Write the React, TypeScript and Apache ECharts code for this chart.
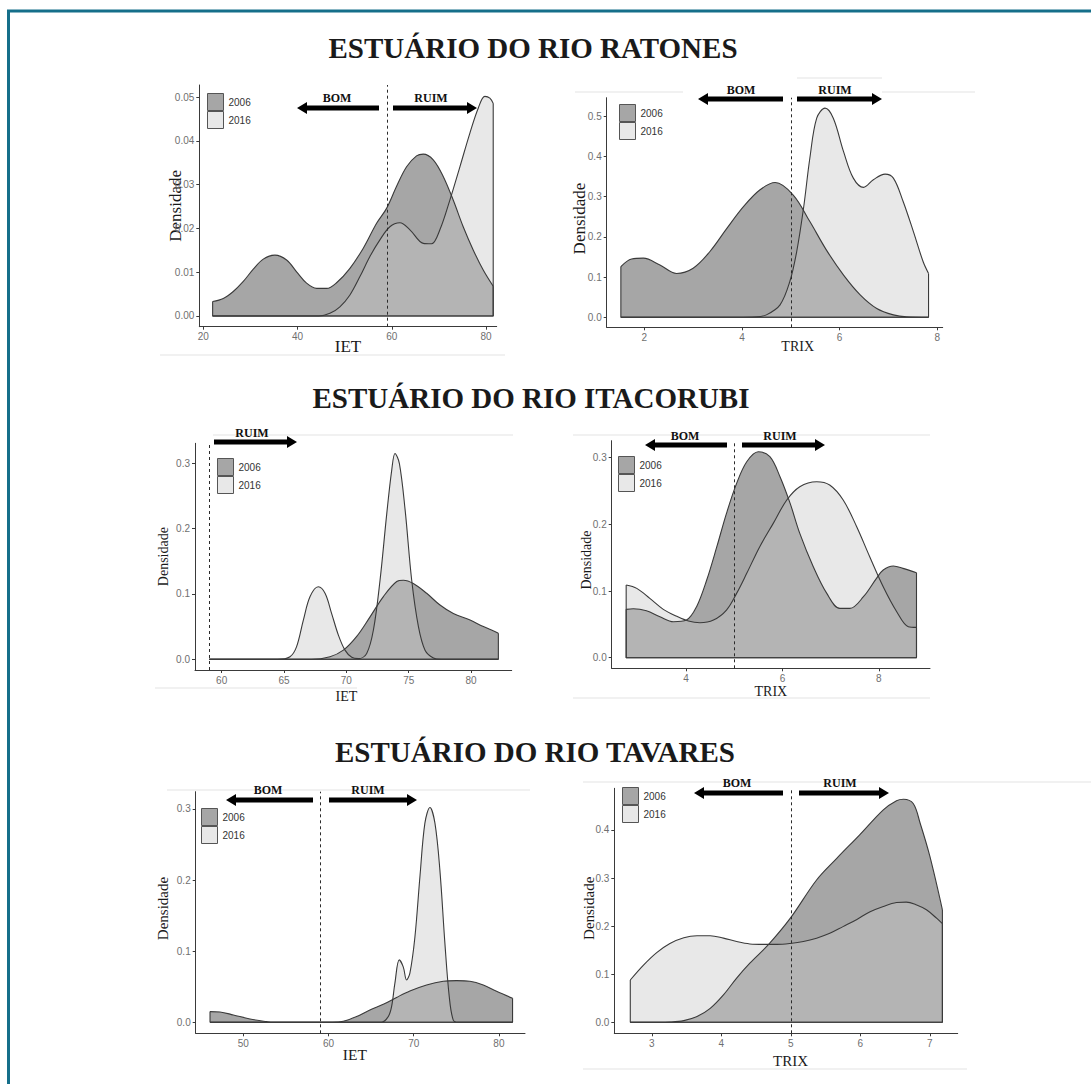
import React, { useEffect, useRef } from "react";
import * as echarts from "echarts";

// ------------------------------------------------------------------ data
const seriesNames = ["2006", "2016"];
const ietThreshold = 59;
const trixThreshold = 5;

// Estuário do Rio Ratones – IET
const ratonesIetTicksX = [20, 40, 60, 80];
const ratonesIetTicksY = [0, 0.01, 0.02, 0.03, 0.04, 0.05];
const ratonesIet2006: number[][] = [
  [21.98, 0.0033], [24.24, 0.004], [26.36, 0.0056], [28.49, 0.0079], [30.61, 0.0107],
  [32.73, 0.013], [35.2, 0.0139], [37.68, 0.0128], [39.8, 0.0101], [41.92, 0.0075],
  [44.05, 0.0063], [46.17, 0.0063], [48.29, 0.0076], [51.12, 0.0109], [53.95, 0.0155],
  [56.78, 0.0212], [58.9, 0.0246], [61.0, 0.0296], [63.14, 0.0341], [65.26, 0.0366],
  [66.68, 0.037], [68.8, 0.0357], [70.92, 0.0319], [73.04, 0.0265], [75.16, 0.0204],
  [77.28, 0.0151], [79.41, 0.0105], [81.53, 0.0068],
];
const ratonesIet2016: number[][] = [
  [21.98, 0], [40, 0], [44.5, 0], [46.87, 0.0006], [48.99, 0.0021], [51.12, 0.0048],
  [53.24, 0.009], [55.36, 0.0136], [57.48, 0.0174], [59.6, 0.0204], [61.72, 0.0213],
  [63.85, 0.0197], [66.68, 0.0166], [68.44, 0.0165], [70.21, 0.0197], [72.33, 0.0265],
  [74.46, 0.0341], [76.58, 0.0418], [78.35, 0.0475], [79.76, 0.0502], [80.82, 0.0498],
  [81.53, 0.0486],
];

// Estuário do Rio Ratones – TRIX
const ratonesTrixTicksX = [2, 4, 6, 8];
const ratonesTrixTicksY = [0, 0.1, 0.2, 0.3, 0.4, 0.5];
const ratonesTrix2006: number[][] = [
  [1.52, 0.126], [1.74, 0.145], [1.98, 0.147], [2.32, 0.13], [2.66, 0.109], [3.0, 0.122],
  [3.34, 0.163], [3.69, 0.221], [4.03, 0.275], [4.37, 0.317], [4.68, 0.335], [5.05, 0.304],
  [5.39, 0.238], [5.73, 0.167], [6.08, 0.105], [6.42, 0.056], [6.76, 0.022], [7.1, 0.006],
  [7.37, 0.001], [7.82, 0],
];
const ratonesTrix2016: number[][] = [
  [1.52, 0], [3.9, 0], [4.3, 0.001], [4.5, 0.006], [4.78, 0.031], [4.98, 0.089],
  [5.12, 0.163], [5.26, 0.271], [5.39, 0.396], [5.53, 0.495], [5.7, 0.52], [5.87, 0.495],
  [6.08, 0.412], [6.28, 0.346], [6.49, 0.323], [6.69, 0.342], [6.93, 0.356], [7.1, 0.346],
  [7.3, 0.288], [7.51, 0.213], [7.71, 0.138], [7.82, 0.109],
];

// Estuário do Rio Itacorubi – IET
const itacorubiIetTicksX = [60, 65, 70, 75, 80];
const itacorubiIetTicksY = [0, 0.1, 0.2, 0.3];
const itacorubiIet2006: number[][] = [
  [59, 0], [67.2, 0], [68.69, 0.004], [69.76, 0.014], [70.83, 0.035], [71.9, 0.065],
  [72.97, 0.096], [74.04, 0.119], [74.57, 0.121], [75.37, 0.116], [76.44, 0.101],
  [77.51, 0.083], [78.58, 0.07], [79.92, 0.06], [80.99, 0.05], [82.19, 0.04],
];
const itacorubiIet2016: number[][] = [
  [59, 0], [64.5, 0], [65.48, 0.004], [66.0, 0.019], [66.55, 0.06], [67.09, 0.096],
  [67.75, 0.111], [68.29, 0.101], [68.82, 0.07], [69.36, 0.037], [69.89, 0.014],
  [70.43, 0.003], [70.96, 0.001], [71.63, 0.009], [72.17, 0.045], [72.7, 0.121],
  [73.24, 0.223], [73.64, 0.29], [73.9, 0.315], [74.25, 0.3], [74.71, 0.229],
  [75.24, 0.121], [75.78, 0.05], [76.31, 0.014], [76.98, 0.002], [77.6, 0], [82.19, 0],
];

// Estuário do Rio Itacorubi – TRIX
const itacorubiTrixTicksX = [4, 6, 8];
const itacorubiTrixTicksY = [0, 0.1, 0.2, 0.3];
const itacorubiTrix2006: number[][] = [
  [2.76, 0.0725], [2.91, 0.0735], [3.18, 0.0705], [3.46, 0.0615], [3.74, 0.054],
  [4.01, 0.0565], [4.22, 0.0765], [4.43, 0.1165], [4.64, 0.1665], [4.84, 0.2165],
  [5.05, 0.2615], [5.26, 0.294], [5.5, 0.309], [5.74, 0.3015], [5.95, 0.2715],
  [6.16, 0.2315], [6.36, 0.1865], [6.64, 0.1365], [6.92, 0.0965], [7.19, 0.074],
  [7.4, 0.074], [7.68, 0.0915], [7.95, 0.119], [8.09, 0.1315], [8.3, 0.1375],
  [8.5, 0.134], [8.78, 0.1275],
];
const itacorubiTrix2016: number[][] = [
  [2.76, 0.109], [2.98, 0.104], [3.25, 0.089], [3.53, 0.0725], [3.81, 0.062], [4.05, 0.055],
  [4.29, 0.0525], [4.57, 0.0565], [4.84, 0.0715], [5.05, 0.0965], [5.26, 0.1265],
  [5.53, 0.1665], [5.81, 0.2015], [6.09, 0.2365], [6.36, 0.2565], [6.71, 0.264],
  [6.98, 0.259], [7.26, 0.2365], [7.54, 0.1965], [7.81, 0.1515], [8.09, 0.1065],
  [8.37, 0.069], [8.61, 0.0465], [8.78, 0.0455],
];

// Estuário do Rio Tavares – IET
const tavaresIetTicksX = [50, 60, 70, 80];
const tavaresIetTicksY = [0, 0.1, 0.2, 0.3];
const tavaresIet2006: number[][] = [
  [46.09, 0.015], [47.26, 0.0145], [48.83, 0.0103], [50.78, 0.0047], [52.74, 0.0009],
  [53.5, 0], [60.5, 0], [61.73, 0.0014], [63.3, 0.008], [64.86, 0.0173], [66.43, 0.0253],
  [67.99, 0.035], [69.55, 0.044], [71.51, 0.0525], [73.47, 0.0577], [75.03, 0.0586],
  [76.59, 0.0577], [78.16, 0.0525], [79.72, 0.0436], [81.6, 0.0338],
];
const tavaresIet2016: number[][] = [
  [46.09, 0], [66.2, 0], [67.01, 0.008], [67.4, 0.022], [67.79, 0.055], [68.3, 0.0877],
  [68.77, 0.078], [69.16, 0.0595], [69.55, 0.069], [70.14, 0.12], [70.73, 0.205],
  [71.31, 0.28], [71.9, 0.302], [72.49, 0.28], [73.07, 0.214], [73.66, 0.111],
  [74.17, 0.036], [74.64, 0.003], [75.2, 0], [81.6, 0],
];

// Estuário do Rio Tavares – TRIX
const tavaresTrixTicksX = [3, 4, 5, 6, 7];
const tavaresTrixTicksY = [0, 0.1, 0.2, 0.3, 0.4];
const tavaresTrix2006: number[][] = [
  [2.69, 0], [3.1, 0], [3.26, 0.0005], [3.46, 0.0035], [3.65, 0.012], [3.84, 0.029],
  [4.03, 0.057], [4.22, 0.092], [4.41, 0.123], [4.68, 0.162], [4.99, 0.216], [5.37, 0.296],
  [5.66, 0.341], [5.99, 0.39], [6.33, 0.442], [6.52, 0.461], [6.62, 0.464], [6.76, 0.455],
  [6.86, 0.414], [7.0, 0.345], [7.18, 0.234],
];
const tavaresTrix2016: number[][] = [
  [2.69, 0.088], [2.88, 0.119], [3.07, 0.145], [3.26, 0.164], [3.46, 0.176], [3.65, 0.18],
  [3.84, 0.18], [4.03, 0.175], [4.22, 0.168], [4.41, 0.163], [4.6, 0.162], [4.8, 0.162],
  [4.99, 0.164], [5.18, 0.168], [5.37, 0.175], [5.56, 0.185], [5.75, 0.199], [5.95, 0.214],
  [6.14, 0.23], [6.33, 0.241], [6.52, 0.249], [6.66, 0.25], [6.81, 0.244], [6.95, 0.234],
  [7.1, 0.216], [7.18, 0.205],
];

const sectionTitles = [
  "ESTUÁRIO DO RIO RATONES",
  "ESTUÁRIO DO RIO ITACORUBI",
  "ESTUÁRIO DO RIO TAVARES",
];

// ------------------------------------------------------------------ styles / layout
const SANS = '"Liberation Sans", Arial, sans-serif';
const SERIF = '"Liberation Serif", "Times New Roman", serif';
const FILL_2006 = "#a6a6a6";
const FILL_2016 = "rgba(200,200,200,0.42)";
const KEY_2016 = "#e8e8e8";
const LINE = "#3a3a3a";

type Panel = {
  grid: [number, number, number, number];
  x: [number, number];
  y: [number, number];
  xTicks: number[];
  yTicks: number[];
  dec: number;
  xName: string;
  xNameSize: number;
  xNameGap: number;
  xNamePad: number[];
  yNameSize: number;
  yNameGap: number;
  yNamePad: number[];
  yNameCover: number;
  d2006: number[][];
  d2016: number[][];
  threshold: number;
  legend: [number, number];
};

const panels: Panel[] = [
  {
    grid: [199.3, 85, 297.4, 241.7], x: [19.15, 82.27], y: [-0.00245, 0.0528],
    xTicks: ratonesIetTicksX, yTicks: ratonesIetTicksY, dec: 2,
    xName: "IET", xNameSize: 17, xNameGap: 11, xNamePad: [0, 0, 0, 0],
    yNameSize: 17, yNameGap: 12, yNamePad: [0, 0, 0, 0], yNameCover: 3,
    d2006: ratonesIet2006, d2016: ratonesIet2016, threshold: ietThreshold, legend: [207, 93],
  },
  {
    grid: [606.7, 97.7, 336, 229.6], x: [1.23, 8.11], y: [-0.0249, 0.546],
    xTicks: ratonesTrixTicksX, yTicks: ratonesTrixTicksY, dec: 1,
    xName: "TRIX", xNameSize: 14, xNameGap: 12.5, xNamePad: [0, 0, 0, 46],
    yNameSize: 17, yNameGap: 19, yNamePad: [0, 12, 0, 0], yNameCover: 0,
    d2006: ratonesTrix2006, d2016: ratonesTrix2016, threshold: trixThreshold, legend: [619, 104],
  },
  {
    grid: [195, 443.3, 316.7, 226.7], x: [57.86, 83.26], y: [-0.0164, 0.3306],
    xTicks: itacorubiIetTicksX, yTicks: itacorubiIetTicksY, dec: 1,
    xName: "IET", xNameSize: 14, xNameGap: 19.5, xNamePad: [0, 14, 0, 0],
    yNameSize: 14, yNameGap: 24.5, yNamePad: [0, 0, 0, 0], yNameCover: 0,
    d2006: itacorubiIet2006, d2016: itacorubiIet2016, threshold: ietThreshold, legend: [217, 458],
  },
  {
    grid: [611.7, 440.7, 318.3, 227.6], x: [2.46, 9.06], y: [-0.0159, 0.3255],
    xTicks: itacorubiTrixTicksX, yTicks: itacorubiTrixTicksY, dec: 1,
    xName: "TRIX", xNameSize: 14, xNameGap: 16, xNamePad: [0, 0, 0, 0],
    yNameSize: 14, yNameGap: 18.7, yNamePad: [0, 11, 0, 0], yNameCover: 0,
    d2006: itacorubiTrix2006, d2016: itacorubiTrix2016, threshold: trixThreshold, legend: [618, 456],
  },
  {
    grid: [195.7, 791.7, 329.3, 241.6], x: [44.41, 83.06], y: [-0.0155, 0.3243],
    xTicks: tavaresIetTicksX, yTicks: tavaresIetTicksY, dec: 1,
    xName: "IET", xNameSize: 15.5, xNameGap: 13, xNamePad: [0, 11, 0, 0],
    yNameSize: 15, yNameGap: 25.7, yNamePad: [0, 0, 0, 8], yNameCover: 0,
    d2006: tavaresIet2006, d2016: tavaresIet2016, threshold: ietThreshold, legend: [201, 808],
  },
  {
    grid: [614.3, 788.3, 343.4, 245], x: [2.46, 7.4], y: [-0.0229, 0.4867],
    xTicks: tavaresTrixTicksX, yTicks: tavaresTrixTicksY, dec: 1,
    xName: "TRIX", xNameSize: 15, xNameGap: 20, xNamePad: [0, 0, 0, 9],
    yNameSize: 15, yNameGap: 11, yNamePad: [0, 0, 0, 5], yNameCover: 7,
    d2006: tavaresTrix2006, d2016: tavaresTrix2016, threshold: trixThreshold, legend: [622, 787],
  },
];

// BOM / RUIM annotations: [label, textX, textY, tailX, tipX, arrowY]
const annotations: [string, number, number, number, number, number][] = [
  ["BOM", 337, 98, 379, 297, 108], ["RUIM", 431, 98, 393, 477, 108],
  ["BOM", 741, 90, 783, 698, 99], ["RUIM", 835, 90, 797, 882, 99],
  ["RUIM", 252, 433, 214, 297, 442],
  ["BOM", 685, 436, 727, 645, 445], ["RUIM", 780, 436, 742, 825, 445],
  ["BOM", 268, 790, 313, 226, 800], ["RUIM", 368, 790, 329, 417, 800],
  ["BOM", 737, 783, 783, 694, 793], ["RUIM", 840, 783, 799, 889, 793],
];
const titlePositions: [number, number][] = [[533, 48], [531, 398], [535, 752]];

// faint edges of the pasted screenshots
const faintLines: [number, number, number, number][] = [
  [160, 355, 505, 355],
  [575, 92, 683, 92], [882, 92, 975, 92], [797, 78, 882, 78],
  [213, 435, 513, 435], [155, 688, 357, 688],
  [573, 435, 930, 435], [573, 698, 930, 698],
  [167, 790, 530, 790],
  [583, 782, 1091, 782], [583, 1069, 967, 1069],
];

function arrowShape(tail: number, tip: number, y: number) {
  const dir = tip > tail ? 1 : -1;
  const hl = 10, hh = 6, st = 2.6;
  const b = tip - dir * hl;
  return {
    type: "polygon",
    silent: true,
    shape: {
      points: [
        [tail, y - st], [b, y - st], [b, y - hh], [tip, y], [b, y + hh], [b, y + st], [tail, y + st],
      ],
    },
    style: { fill: "#000" },
  };
}

function densitySeries(i: number, name: string, pts: number[][], fill: string, threshold?: number) {
  const first = pts[0];
  const last = pts[pts.length - 1];
  const area: any = {
    type: "line",
    name,
    xAxisIndex: i,
    yAxisIndex: i,
    data: pts,
    smooth: 0.35,
    symbol: "none",
    silent: true,
    lineStyle: { color: LINE, width: 1.1 },
    itemStyle: { color: fill },
    areaStyle: { color: fill, opacity: 1 },
  };
  const outline: any = {
    type: "line",
    name: name + " contorno",
    xAxisIndex: i,
    yAxisIndex: i,
    data: [[first[0], first[1]], [first[0], 0], [last[0], 0], [last[0], last[1]]],
    symbol: "none",
    silent: true,
    lineStyle: { color: LINE, width: 1.1 },
  };
  if (threshold !== undefined) {
    outline.markLine = {
      silent: true,
      symbol: ["none", "none"],
      label: { show: false },
      lineStyle: { color: "#2b2b2b", width: 1, type: [3, 3] },
      data: [{ xAxis: threshold }],
    };
  }
  return [area, outline];
}

function buildOption() {
  const grid = panels.map((p) => ({ left: p.grid[0], top: p.grid[1], width: p.grid[2], height: p.grid[3] }));
  const xAxis = panels.map((p, i) => ({
    type: "value",
    gridIndex: i,
    min: p.x[0],
    max: p.x[1],
    name: p.xName,
    nameLocation: "middle",
    nameGap: p.xNameGap,
    nameMoveOverlap: false,
    nameTextStyle: { fontFamily: SERIF, fontSize: p.xNameSize, color: "#1a1a1a", padding: p.xNamePad },
    axisLine: { onZero: false, lineStyle: { color: LINE, width: 1 } },
    axisTick: { show: true, customValues: p.xTicks, length: 3, lineStyle: { color: LINE } },
    axisLabel: {
      customValues: p.xTicks, margin: 5, fontSize: 10, color: "#6f6f6f", fontFamily: SANS,
      formatter: (v: number) => String(v),
    },
    splitLine: { show: false },
  }));
  const yAxis = panels.map((p, i) => ({
    type: "value",
    gridIndex: i,
    min: p.y[0],
    max: p.y[1],
    name: "{d|Densidade}",
    nameLocation: "middle",
    nameGap: p.yNameGap,
    nameMoveOverlap: false,
    z: 3,
    nameTextStyle: {
      padding: p.yNamePad,
      rich: {
        d: {
          fontFamily: SERIF, fontSize: p.yNameSize, color: "#1a1a1a",
          backgroundColor: p.yNameCover > 0 ? "#fff" : "transparent",
          padding: [0, 0, p.yNameCover, 0],
        },
      },
    },
    axisLine: { onZero: false, lineStyle: { color: LINE, width: 1 } },
    axisTick: { show: true, customValues: p.yTicks, length: 3, lineStyle: { color: LINE } },
    axisLabel: {
      customValues: p.yTicks, margin: 5, fontSize: 10, color: "#6f6f6f", fontFamily: SANS,
      formatter: (v: number) => v.toFixed(p.dec),
    },
    splitLine: { show: false },
  }));
  const series: any[] = [];
  panels.forEach((p, i) => {
    series.push(...densitySeries(i, seriesNames[0], p.d2006, FILL_2006));
    series.push(...densitySeries(i, seriesNames[1], p.d2016, FILL_2016, p.threshold));
  });
  const legend = panels.map((p) => ({
    left: p.legend[0],
    top: p.legend[1],
    orient: "vertical",
    padding: 0,
    itemGap: 0,
    itemWidth: 16,
    itemHeight: 17,
    icon: "rect",
    selectedMode: false,
    textStyle: { fontFamily: SANS, fontSize: 10, color: "#333" },
    data: [
      { name: seriesNames[0], icon: "rect", itemStyle: { color: FILL_2006, borderColor: "#555", borderWidth: 1 } },
      { name: seriesNames[1], icon: "rect", itemStyle: { color: KEY_2016, borderColor: "#555", borderWidth: 1 } },
    ],
  }));

  const graphic: any[] = [];
  faintLines.forEach(([x1, y1, x2, y2]) =>
    graphic.push({ type: "line", silent: true, z: -1, shape: { x1, y1, x2, y2 }, style: { stroke: "#e3e3e3", lineWidth: 1 } })
  );
  // frame
  graphic.push({ type: "line", silent: true, shape: { x1: 7, y1: 11, x2: 1091, y2: 11 }, style: { stroke: "#156f8a", lineWidth: 3 } });
  graphic.push({ type: "line", silent: true, shape: { x1: 8.5, y1: 10, x2: 8.5, y2: 1084 }, style: { stroke: "#156f8a", lineWidth: 3 } });
  sectionTitles.forEach((t, i) =>
    graphic.push({
      type: "text", silent: true, x: titlePositions[i][0], y: titlePositions[i][1],
      style: { text: t, fontFamily: SERIF, fontWeight: "bold", fontSize: 29, fill: "#1a1a1a", align: "center", verticalAlign: "middle" },
    })
  );
  annotations.forEach(([label, tx, ty, tail, tip, ay]) => {
    graphic.push({
      type: "text", silent: true, x: tx, y: ty,
      style: { text: label, fontFamily: SERIF, fontWeight: "bold", fontSize: 12, fill: "#111", align: "center", verticalAlign: "middle" },
    });
    graphic.push(arrowShape(tail, tip, ay));
  });

  return {
    animation: false,
    backgroundColor: "#ffffff",
    grid,
    xAxis,
    yAxis,
    legend,
    series,
    graphic,
  };
}

export default function App() {
  const ref = useRef<HTMLDivElement>(null);
  useEffect(() => {
    if (!ref.current) return;
    const chart = echarts.init(ref.current, null, { renderer: "svg", width: 1091, height: 1084 });
    chart.setOption(buildOption() as any);
    return () => chart.dispose();
  }, []);
  return (
    <div
      ref={ref}
      style={{ position: "absolute", left: 0, top: 0, width: 1091, height: 1084, background: "#fff" }}
    />
  );
}
